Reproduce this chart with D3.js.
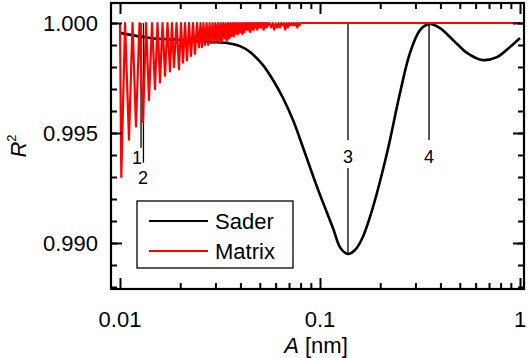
<!DOCTYPE html>
<html><head><meta charset="utf-8">
<script src="https://cdn.jsdelivr.net/npm/d3@7"></script>
<style>
body{margin:0;background:#fff;}
svg{display:block;font-family:"Liberation Sans",Arial,sans-serif;}
</style></head>
<body><svg id="c" width="530" height="358"></svg>
<script>
// ---- data ----
const saderA  = [0.0100,0.01413,0.01995,0.02818,0.03428,0.03981,0.04467,0.05129,0.05821,0.06531,0.07328,0.07943,0.09661,0.1161,0.1266,0.1380,0.1496,0.1629,0.1841,0.2163,0.2512,0.2818,0.3162,0.3508,0.3981,0.4624,0.5433,0.6457,0.7674,0.8913,1.0];
const saderR2 = [0.99955,0.99932,0.99923,0.99914,0.99909,0.99895,0.99868,0.99814,0.99741,0.99659,0.99559,0.99473,0.99255,0.99068,0.98977,0.98950,0.98968,0.99023,0.99164,0.99409,0.99682,0.99864,0.99968,0.99995,0.99977,0.99923,0.99864,0.99832,0.99845,0.99891,0.99932];

const matrixA = [0.01000,0.01015,0.01060,0.01109,0.01155,0.01202,0.01252,0.01303,0.01350,0.01396,0.01446,0.01496,0.01540,0.01585,0.01632,0.01679,0.01728,0.01778,0.01820,0.01862,0.01917,0.01972,0.02018,0.02065,0.02114,0.02163,0.02214,0.02265,0.02318,0.02371,0.02427,0.02483,0.02527,0.02570,0.02615,0.02660,0.02710,0.02760,0.02805,0.02850,0.02900,0.02950,0.02995,0.03040,0.03090,0.03140,0.03185,0.03230,0.03280,0.03330,0.03375,0.03420,0.03470,0.03520,0.03565,0.03610,0.03660,0.03710,0.03755,0.03800,0.03850,0.03900,0.03945,0.03990,0.04040,0.04090,0.04135,0.04180,0.04230,0.04280,0.04325,0.04370,0.04420,0.04470,0.04515,0.04560,0.04610,0.04660,0.04705,0.04750,0.04800,0.04850,0.04895,0.04940,0.04990,0.05040,0.05085,0.05130,0.05180,0.05230,0.05275,0.05320,0.05370,0.05420,0.05465,0.05510,
  0.0560,0.0570,0.0580,0.0590,0.0600,0.0610,0.0620,0.0630,0.0640,0.0650,0.0660,0.0670,0.0680,0.0690,0.0700,0.0710,0.0720,0.0730,0.0740,0.0750,0.0760,0.0770,0.0780,0.0790,0.0800,1.0];
const matrixR2 = [1,0.9930,1,0.9947,1,0.9953,1,0.9955,1,0.9965,1,0.9970,1,0.9973,1,0.9976,1,0.9978,1,0.9980,1,0.9979,1,0.9982,1,0.9983,1,0.9985,1,0.9986,1,0.9989,1,0.9989,1,0.9990,1,0.9990,1,0.9991,1,0.9991,1,0.9992,1,0.9991,1,0.9992,1,0.9993,1,0.9992,1,0.9993,1,0.9994,1,0.9994,1,0.9995,1,0.9995,1,0.9996,1,0.9995,1,0.9996,1,0.9997,1,0.9997,1,0.9996,1,0.9997,1,0.9997,1,0.9998,1,0.9997,1,0.9998,1,0.9998,1,0.9998,1,0.9997,1,0.9998,1,0.9998,1,0.9999,
  1,0.9998,1,0.9997,1,0.9998,1,0.9998,1,0.9999,1,0.9997,1,0.9998,1,0.9999,1,0.9999,1,0.9999,1,0.9998,1,0.9999,1,1];

const markerLabels = ["1","2","3","4"];
const markerA      = [0.01274,0.0131,0.138,0.351];
const markerBottom = [0.99433,0.99365,0.98950,0.99468];

const xTickVals = [0.01,0.1,1];
const xTickLabels = ["0.01","0.1","1"];
const yTickVals = [0.990,0.995,1.000];
const yTickLabels = ["0.990","0.995","1.000"];
const seriesNames = ["Sader","Matrix"];
const seriesColors = ["#000000","#ff0000"];

// ---- layout ----
const svg = d3.select("#c");
const L=111, R=524, T=3, B=289;
const x = d3.scaleLog().domain([10**(-2-9/200), 10**(4/200)]).range([L,R]);
const y = d3.scaleLinear().domain([1-266/22000, 1+20/22000]).range([B,T]);

svg.append("clipPath").attr("id","clp").append("rect")
  .attr("x",L).attr("y",T).attr("width",R-L).attr("height",B-T);

// marker lines
const mg = svg.append("g").attr("stroke","#000").attr("stroke-width",1.3);
markerLabels.forEach((lab,i)=>{
  const xx = x(markerA[i]);
  if(i<2){
    mg.append("line").attr("x1",xx).attr("x2",xx).attr("y1",y(1)).attr("y2",y(markerBottom[i]));
  } else {
    mg.append("line").attr("x1",xx).attr("x2",xx).attr("y1",y(1)).attr("y2",140);
    if(i===2) mg.append("line").attr("x1",xx).attr("x2",xx).attr("y1",168).attr("y2",y(markerBottom[i]));
  }
});
const lblPos = [[137,164],[143,184],[x(markerA[2]),163],[x(markerA[3]),163]];
markerLabels.forEach((lab,i)=>{
  svg.append("text").attr("x",lblPos[i][0]).attr("y",lblPos[i][1]).attr("text-anchor","middle")
    .attr("font-size",18).text(lab);
});

const gPlot = svg.append("g").attr("clip-path","url(#clp)");
gPlot.append("path").datum(saderA.map((a,i)=>[a,saderR2[i]]))
  .attr("d", d3.line().x(d=>x(d[0])).y(d=>y(d[1])).curve(d3.curveCatmullRom))
  .attr("fill","none").attr("stroke",seriesColors[0]).attr("stroke-width",2.6);
gPlot.append("path").datum(matrixA.map((a,i)=>[a,matrixR2[i]]))
  .attr("d", d3.line().x(d=>x(d[0])).y(d=>y(d[1])))
  .attr("fill","none").attr("stroke",seriesColors[1]).attr("stroke-width",2.2).attr("stroke-linejoin","round");

// axes
const xMinor = [];
[0.01,0.1].forEach(d=>{for(let k=2;k<=9;k++) xMinor.push(d*k);});
const yMinor = d3.range(988,1001).map(v=>v/1000);
function ticks(g, scale, orient, vals, len){
  const ax = (orient==="bottom"?d3.axisBottom:orient==="top"?d3.axisTop:orient==="left"?d3.axisLeft:d3.axisRight)(scale)
    .tickValues(vals).tickSizeInner(-len).tickSizeOuter(0).tickFormat("");
  g.call(ax); g.select(".domain").remove();
  g.selectAll(".tick line").attr("stroke","#000").attr("stroke-width",2);
}
ticks(svg.append("g").attr("transform",`translate(0,${B})`), x, "bottom", xMinor, 6);
ticks(svg.append("g").attr("transform",`translate(0,${B})`), x, "bottom", xTickVals, 11);
ticks(svg.append("g").attr("transform",`translate(0,${T})`), x, "top", xMinor, 6);
ticks(svg.append("g").attr("transform",`translate(0,${T})`), x, "top", xTickVals, 11);
ticks(svg.append("g").attr("transform",`translate(${L},0)`), y, "left", yMinor, 6);
ticks(svg.append("g").attr("transform",`translate(${L},0)`), y, "left", yTickVals, 11);
ticks(svg.append("g").attr("transform",`translate(${R},0)`), y, "right", yMinor, 6);
ticks(svg.append("g").attr("transform",`translate(${R},0)`), y, "right", yTickVals, 11);

svg.append("rect").attr("x",L).attr("y",T).attr("width",R-L).attr("height",B-T)
  .attr("fill","none").attr("stroke","#000").attr("stroke-width",2.2);

// tick labels
xTickVals.forEach((v,i)=>svg.append("text").attr("x",x(v)).attr("y",327).attr("text-anchor","middle")
  .attr("font-size",22).text(xTickLabels[i]));
yTickVals.forEach((v,i)=>svg.append("text").attr("x",98).attr("y",y(v)+8).attr("text-anchor","end")
  .attr("font-size",22).text(yTickLabels[i]));

// axis titles
const xt = svg.append("text").attr("x",316).attr("y",353).attr("text-anchor","middle").attr("font-size",22);
xt.append("tspan").attr("font-style","italic").text("A");
xt.append("tspan").text(" [nm]");
const yt = svg.append("text").attr("transform","translate(26,146) rotate(-90)").attr("text-anchor","middle").attr("font-size",22);
yt.append("tspan").attr("font-style","italic").text("R");
yt.append("tspan").attr("font-size",13).attr("dy",-10).text("2");

// legend
const lg = svg.append("g");
lg.append("rect").attr("x",137).attr("y",201).attr("width",156).attr("height",67)
  .attr("fill","#fff").attr("stroke","#000").attr("stroke-width",1.3);
seriesNames.forEach((n,i)=>{
  const yy = 221 + i*30;
  lg.append("line").attr("x1",149).attr("x2",208).attr("y1",yy).attr("y2",yy)
    .attr("stroke",seriesColors[i]).attr("stroke-width",2);
  lg.append("text").attr("x",215).attr("y",yy+8).attr("font-size",22).text(n);
});
</script></body></html>
